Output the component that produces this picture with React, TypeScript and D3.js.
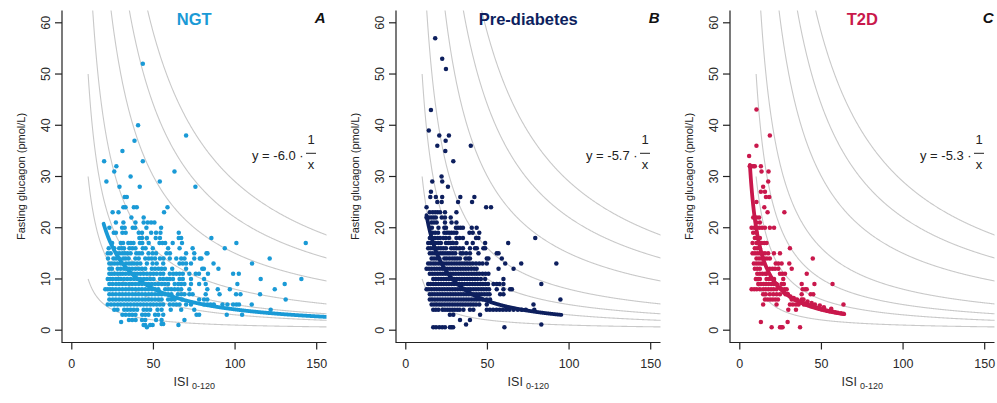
import React from 'react';
import * as d3 from 'd3';

type Row = [number, number[]];

const panelTitles = ['NGT', 'Pre-diabetes', 'T2D'];
const panelLetters = ['A', 'B', 'C'];
const panelColors = ['#1a9ad6', '#0d1f5e', '#c9184c'];
const coefLabels = ['-6.0', '-5.7', '-5.3'];
const fitK = [405, 285, 200];
const fitFrom = [19.5, 12.7, 6.2];
const fitTo = [160, 95.3, 64];
const isoK = [100, 300, 500, 800, 1500, 2200, 2900];
const xTicks = [0, 50, 100, 150];
const yTicks = [0, 10, 20, 30, 40, 50, 60];

const ngtRows: Row[] = [
  [52, [43.5]],
  [40, [40.6]],
  [38, [70]],
  [37, [38.4]],
  [35, [31]],
  [33, [19.8, 43.5]],
  [32, [27.3]],
  [31, [26, 62.9]],
  [30, [36]],
  [29, [21.2, 53.9]],
  [28, [29.2, 41.6, 75.7]],
  [26, [32.4, 33.7]],
  [24, [31.6, 32.9, 38, 39.8, 58.6]],
  [23, [25, 28.6, 56.5]],
  [22, [36.5, 44]],
  [21, [27, 31.6, 39, 44, 46.5, 48.6, 50.6]],
  [20, [23, 30.8, 32.4, 37.3, 38.8, 45.7, 54.7]],
  [19, [25.7, 27, 31, 33, 41, 43, 48.6, 51.6, 54.3, 65.5]],
  [18, [41.4, 43, 46, 51.4, 54, 65.5, 67, 85.5]],
  [17, [24.7, 30, 31.4, 34.6, 36.2, 37.8, 41.7, 43.2, 47.1, 53.7, 55.5, 57.2, 61.8, 67.5, 100.8, 143.3]],
  [16, [22.6, 26, 29, 30.6, 32, 35.3, 37.1, 39, 43.5, 45.2, 49.6, 59, 66, 74, 93.7]],
  [15, [22, 23.8, 27.6, 29.2, 31, 32.5, 34.1, 36, 39.5, 41.2, 43, 47, 49.5, 51.6, 58, 60.1, 70, 75, 82.5, 83.1]],
  [14, [22.2, 25.5, 27.1, 29, 31.5, 33, 34.8, 38.9, 41, 45, 47.1, 49, 51, 54, 56.2, 60, 64, 67, 69, 75, 78.4, 79.4, 121.2]],
  [13, [23, 24.5, 26.2, 28, 30, 33.2, 35, 36.5, 38.1, 40, 42, 46, 49.5, 52, 56, 66, 68, 70, 73, 86.8, 110.4]],
  [12, [23, 24.6, 28.1, 30, 32, 33.5, 35.1, 37, 39, 41.1, 43, 45, 49, 51, 53.1, 55, 57, 61.5, 70, 79.9, 80.9, 89.8]],
  [11, [23, 24.5, 26.1, 28, 29.6, 31.2, 33, 35, 37, 38.5, 40.1, 42, 44, 46, 48.1, 50, 52, 54.2, 56, 60, 62.1, 64, 66, 68, 72, 75.9, 77.9, 83.4, 98.8, 102.3]],
  [10, [22, 23.5, 25.1, 27, 28.5, 30.1, 32, 34, 36, 38.1, 40, 42, 44.1, 46, 48, 50.1, 54, 56, 58.2, 60, 62, 66, 68, 73, 81, 115.7, 140.6]],
  [9, [23, 25, 27.1, 29, 31, 33, 35.1, 37, 39, 41, 43, 45.2, 47, 49, 51, 53, 55.1, 57, 59, 63, 65.2, 67, 69, 73, 78, 82, 101.4, 130.4]],
  [8, [20.5, 22, 23.5, 25.1, 27, 29, 31, 33.1, 35, 37, 39, 41.1, 43, 45, 47, 49.1, 51, 53, 57.2, 59, 61, 63, 65, 67, 72, 83, 89.4, 96.8, 124.3]],
  [7, [23, 25, 27, 29.1, 31, 33, 35, 37.1, 39, 41, 43, 45, 47.1, 49, 51, 53, 55, 57.1, 59, 61, 65, 67, 69, 72, 74, 82, 90.5, 100.6, 103.3, 115.3]],
  [6, [23, 25.1, 27, 29, 31, 33.1, 35, 37, 39, 41, 43.1, 45, 47, 49, 51, 53.1, 55, 59, 61, 63, 67.5, 78, 81, 83, 131]],
  [5, [22, 24, 26, 28.1, 30, 32, 34, 36, 38.1, 40, 42, 44, 46, 48.1, 50, 52, 54, 56, 60, 62.1, 64, 66, 70, 73, 81, 83, 85, 87, 92.3, 95.3, 98.8, 100.8, 102.4, 110.2]],
  [4, [26, 28, 32.1, 34, 36, 38, 40, 44, 46, 48, 52.5, 55, 60.6, 67, 75, 121.8]],
  [3, [31, 33, 35.1, 37, 39, 43.1, 45, 47, 51, 53, 56, 76.4, 78, 94.9, 104.3]],
  [2, [35, 37, 39.1, 43, 45, 51.6, 55, 69]],
  [1.6, [30.2]],
  [1.2, [55, 56]],
  [1, [44, 45, 48, 49.5, 65.3]],
  [0.6, [46]],
];

const preRows: Row[] = [
  [57, [18]],
  [53, [22.3]],
  [51, [24.6]],
  [43, [15.4]],
  [39, [14.1]],
  [38, [20.5, 26.4]],
  [37, [24.4]],
  [36, [19.3, 39.8]],
  [35, [24.2]],
  [33, [29.1]],
  [30, [21.9]],
  [29, [16.2, 22.3]],
  [28, [25.8]],
  [27, [15.4]],
  [26, [15, 18.4, 22.3, 33.4, 42]],
  [25, [19.3, 22, 32, 40.6]],
  [24, [12.7, 49.2, 52.2]],
  [23, [14.7, 16.5, 18, 19.5, 21, 24, 31]],
  [22, [12.7, 14, 15.5, 17, 18.4, 22, 24, 27.5]],
  [21, [15.8, 17.3, 18.9, 24, 28, 31]],
  [20, [16, 20, 23.6, 24.6, 30.7, 32, 33.5, 35, 40.4, 43.4]],
  [19, [16.4, 18, 19.8, 23.6, 25, 26.5, 28, 29.5, 31, 39, 41, 45]],
  [18, [14.7, 16.2, 17.8, 19.5, 21, 23, 24.5, 26.5, 31, 33, 35, 43, 44.5, 79.3]],
  [17, [13.7, 15.2, 16.8, 18.3, 20, 21.5, 24.6, 26, 27.5, 29, 31, 37.3, 41, 48.6, 62.7]],
  [16, [13.7, 15.2, 16.8, 18.3, 20, 21.5, 23, 24.6, 27.8, 29.5, 31, 33, 35, 39.3, 42.4, 43.5, 47.5, 48.6]],
  [15, [14.7, 16.2, 17.8, 19.3, 21, 22.5, 24, 25.6, 27, 28.7, 30.3, 33.6, 35, 37, 39.3, 44.5, 55.7, 56.8]],
  [14, [15.8, 17.3, 18.9, 20.5, 23.6, 25, 26.7, 28.4, 30, 31.5, 33.2, 36.6, 38.2, 39.3, 49.6, 50.6, 58.8]],
  [13, [13.7, 15.2, 16.8, 18.3, 20, 21.6, 23.2, 24.8, 26.4, 28, 29.6, 31.2, 32.8, 34.4, 36, 37.6, 39.2, 41, 43, 45, 47, 49.6, 60.9, 70.7, 92.2]],
  [12, [12.7, 14.2, 15.8, 17.4, 19, 20.6, 22.2, 23.8, 25.4, 27, 28.6, 30.2, 31.8, 33.4, 35, 36.6, 38.2, 40, 41.8, 43.4, 56.8, 66]],
  [11, [14.7, 16.2, 17.8, 19.4, 21, 22.6, 24.2, 25.8, 27.4, 29, 30.6, 32.2, 33.8, 35.4, 37, 38.6, 40.2, 41.8, 43.4, 45, 47, 48.8, 50.6]],
  [10, [16.8, 18.4, 20, 21.6, 23.2, 24.8, 26.4, 28, 29.6, 31.2, 32.8, 34.4, 36, 37.6, 39.2, 40.8, 42.4, 44, 46, 48.6, 59.8]],
  [9, [13.7, 15.2, 16.8, 18.4, 20, 21.6, 23.2, 24.8, 26.4, 28, 29.6, 31.2, 32.8, 34.4, 36, 37.6, 39.2, 40.8, 42.4, 44, 45.6, 47.2, 48.8, 50.4, 53.7, 55.7, 57.4, 59.8, 83]],
  [8, [12.7, 14.2, 15.8, 17.4, 19, 20.6, 22.2, 23.8, 25.4, 27, 28.6, 30.2, 31.8, 33.4, 35, 36.6, 38.2, 39.8, 41.4, 43, 44.6, 46.2, 47.8, 49.4, 51, 55.7, 59.8, 63.9, 65]],
  [7, [14.7, 16.2, 17.8, 19.4, 21, 22.6, 24.2, 25.8, 27.4, 29, 30.6, 32.2, 33.8, 35.4, 37, 38.6, 40.2, 41.8, 43.4, 45, 46.6, 48.2, 49.8, 51.3, 57.8, 59.8]],
  [6, [14.7, 16.2, 17.8, 19.4, 21, 22.6, 24.2, 25.8, 27.4, 29, 30.6, 32.2, 33.8, 35.4, 37, 38.6, 40.2, 41.8, 43.4, 45, 47, 49.5, 51.6, 94.7]],
  [5, [15.8, 17.3, 18.9, 20.5, 22.1, 23.7, 25.3, 26.9, 28.5, 30.1, 31.7, 33.3, 34.9, 36.5, 38.1, 39.7, 41.3, 43, 45, 49.6, 78.2]],
  [4, [16.8, 18.4, 20, 22.5, 24, 25.5, 27, 28.5, 30, 31.5, 33, 35.3, 39.3, 41.4, 49.6, 51.5, 53.5, 55.5, 57.5, 59.5, 61.5, 63.5, 66, 68.6, 71, 73.5, 78.7]],
  [3, [27, 29.1, 45.5]],
  [2, [33.2, 39.3]],
  [1.1, [36.9, 83]],
  [0.6, [16.8, 18.5, 20.5, 22.3, 24, 27, 28, 29, 60.4]],
];

const t2dRows: Row[] = [
  [43.1, [10.2]],
  [38, [18.4]],
  [36, [10.2]],
  [34, [5.7]],
  [32, [6.1, 7.3, 8.4, 9.2, 12.9]],
  [31, [13.3, 17.6]],
  [29, [17.4]],
  [28, [14.3]],
  [27, [12.9, 15.4]],
  [26, [16, 18]],
  [25, [10.2]],
  [24, [15]],
  [23, [17, 27.3]],
  [22, [8.2, 10.2, 11.8]],
  [21, [10.2, 12.3]],
  [20, [7.2, 8.8, 10.4, 12, 13.6, 15.4, 18.4, 21]],
  [19, [8.2, 10.2]],
  [18, [9.2, 10.7, 12.3]],
  [17, [7.8, 10.2, 11.8, 13.4, 15, 16.4]],
  [16, [9.2, 10.7, 12.3, 30.7]],
  [15, [7.8, 9.3, 10.8, 12.3, 13.8, 15.4, 17.4, 20.9, 24.6]],
  [14, [10.2, 11.8, 13.4, 15, 16.6, 18.4, 44.7]],
  [13, [8.6, 10.1, 11.6, 13.1, 14.3, 22, 23.6, 25.6, 30.3]],
  [12, [9.2, 10.7, 12.3, 18.4, 20, 21.6, 23.6, 31.8]],
  [11, [10.7, 12.3, 13.9, 15.5, 16.4, 24.6, 26, 27.7, 41]],
  [10, [9.8, 11.3, 12.3, 16.4, 18, 19.6, 21, 26.6]],
  [9, [11.3, 12.9, 14.5, 16, 17.6, 19.2, 20.8, 22.5, 25.6, 27, 37.9, 45.7, 56.8]],
  [8, [7.2, 8.8, 10.4, 12.3, 14.3, 15.9, 17.5, 19.1, 20.7, 22.5, 25.6, 27.3, 28.7, 38.5, 40, 41]],
  [7, [14.3, 15.9, 18.4, 20.5, 22.6, 24.6, 28, 29.5, 37.9, 43.4, 45]],
  [6, [15.4, 17, 18.6, 20.2, 21.8, 23.4, 31.8, 33.5, 35, 37.9]],
  [5, [14.3, 22.5, 30.7, 32.5, 34.4, 36, 39.3, 41, 63.5]],
  [4, [29.7, 34.4]],
  [1.6, [12.9, 29.3]],
  [0.6, [19.5, 24.6, 25.4, 26.2, 36.9]],
];

// T2D points lying close to the fitted curve (read individually)
const t2dCurvePts: [number, number][] = [
  [21, 9.5], [23, 8.8], [25, 8.2], [27, 7.4], [29, 7.1], [31, 6.6], [33, 6.3], [35, 5.9],
  [37, 5.6], [38.5, 5.4], [40, 5.2], [42, 4.9], [43.5, 4.7], [45, 4.6], [47, 4.4], [48.5, 4.3],
  [50, 4.1], [52, 4], [53.5, 3.8], [55, 3.7], [57, 3.6], [58.5, 3.5], [60, 3.4], [62, 3.3],
  [63.5, 3.2], [39, 6], [41.5, 5.6], [44, 5.3], [46, 5], [49, 4.8], [51.5, 4.5], [56, 4.2],
];

const panelRows = [ngtRows, preRows, t2dRows];
const panelExtra: [number, number][][] = [[], [], t2dCurvePts];

const plotLefts = [62, 396, 730];
const plotW = 264.5;
const plotTop = 10.5;
const plotBottom = 342.5;
const font = "'Liberation Sans', Arial, Helvetica, sans-serif";

function Panel({ i }: { i: number }) {
  const left = plotLefts[i];
  const x = d3.scaleLinear().domain([-6, 156]).range([left, left + plotW]);
  const y = d3.scaleLinear().domain([-2.4, 62.4]).range([plotBottom, plotTop]);
  const color = panelColors[i];
  const pts: [number, number][] = [];
  panelRows[i].forEach(([yy, xs]) => xs.forEach((xx) => pts.push([xx, yy])));
  panelExtra[i].forEach((p) => pts.push(p));

  const curve = (k: number, a: number, b: number) => {
    const xs = d3.range(a, b, 0.25).concat([b]);
    return d3
      .line<number>()
      .x((v) => x(v))
      .y((v) => y(k / v))(xs) as string;
  };
  const clipId = `clip${i}`;
  const cx = left + plotW / 2;
  return (
    <g>
      <defs>
        <clipPath id={clipId}>
          <rect x={left} y={plotTop} width={plotW} height={plotBottom - plotTop} />
        </clipPath>
      </defs>
      <g clipPath={`url(#${clipId})`}>
        {isoK.map((k) => (
          <path key={k} d={curve(k, 10, 160)} fill="none" stroke="#c9c9c9" strokeWidth={1.1} />
        ))}
        {pts.map((p, j) => (
          <circle key={j} cx={x(p[0])} cy={y(p[1])} r={2.25} fill={color} />
        ))}
        <path
          d={curve(fitK[i], fitFrom[i], fitTo[i])}
          fill="none"
          stroke={color}
          strokeWidth={3.8}
          strokeLinecap="round"
        />
      </g>
      <path
        d={`M${left},${plotTop}V${plotBottom}H${left + plotW}`}
        fill="none"
        stroke="#222"
        strokeWidth={1.2}
      />
      {xTicks.map((t) => (
        <g key={t}>
          <line x1={x(t)} x2={x(t)} y1={plotBottom} y2={plotBottom + 7} stroke="#222" strokeWidth={1.2} />
          <text x={x(t)} y={368} textAnchor="middle" fontSize={12.5} fill="#2a2a2a" fontFamily={font}>
            {t}
          </text>
        </g>
      ))}
      {yTicks.map((t) => (
        <g key={t}>
          <line x1={left - 7} x2={left} y1={y(t)} y2={y(t)} stroke="#222" strokeWidth={1.2} />
          <text
            transform={`translate(${left - 12},${y(t)}) rotate(-90)`}
            textAnchor="middle"
            fontSize={12.5}
            fill="#2a2a2a"
            fontFamily={font}
          >
            {t}
          </text>
        </g>
      ))}
      <text x={cx} y={386} textAnchor="middle" fontSize={12.5} fill="#2a2a2a" fontFamily={font}>
        ISI
        <tspan fontSize={9} dx={3} dy={3}>
          0-120
        </tspan>
      </text>
      <text
        transform={`translate(${left - 37},${(plotTop + plotBottom) / 2}) rotate(-90)`}
        textAnchor="middle"
        fontSize={11}
        fill="#222"
        fontFamily={font}
      >
        Fasting glucagon (pmol/L)
      </text>
      <text x={cx} y={25} textAnchor="middle" fontSize={16.5} fontWeight="bold" fill={color} fontFamily={font}>
        {panelTitles[i]}
      </text>
      <text
        x={left + plotW - 1}
        y={23}
        textAnchor="end"
        fontSize={15}
        fontWeight="bold"
        fontStyle="italic"
        fill="#111"
        fontFamily={font}
      >
        {panelLetters[i]}
      </text>
      <text x={left + 190} y={160} fontSize={13} fill="#222" fontFamily={font}>
        {`y = ${coefLabels[i]} \u00B7`}
      </text>
      <text x={left + 249} y={144} textAnchor="middle" fontSize={13} fill="#222" fontFamily={font}>
        1
      </text>
      <line x1={left + 244} x2={left + 254} y1={153.3} y2={153.3} stroke="#222" strokeWidth={1} />
      <text x={left + 249} y={168.5} textAnchor="middle" fontSize={13} fill="#222" fontFamily={font}>
        x
      </text>
    </g>
  );
}

export default function App() {
  return (
    <svg
      width={997}
      height={403}
      viewBox="0 0 997 403"
      style={{ position: 'absolute', left: 0, top: 0, background: '#fff' }}
    >
      <rect x={0} y={0} width={997} height={403} fill="#fff" />
      {[0, 1, 2].map((i) => (
        <Panel key={i} i={i} />
      ))}
    </svg>
  );
}
